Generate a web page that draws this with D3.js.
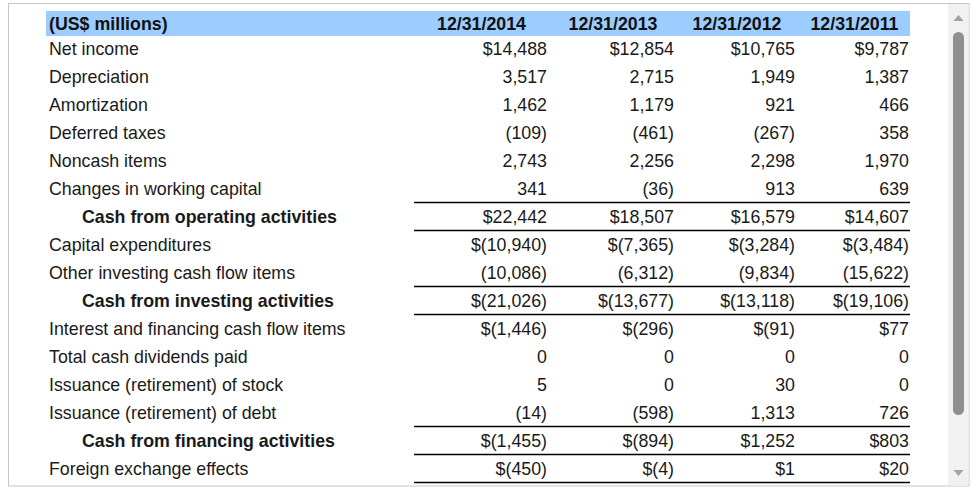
<!DOCTYPE html>
<html><head><meta charset="utf-8">
<script src="https://cdn.jsdelivr.net/npm/d3@7"></script>
<style>
html,body{margin:0;padding:0;background:#fff;}
svg{display:block;font-family:"Liberation Sans",Arial,sans-serif;}
</style></head>
<body><svg id="c" width="977" height="491"></svg>
<script>
const headerLabel = "(US$ millions)";
const dates = ["12/31/2014","12/31/2013","12/31/2012","12/31/2011"];
const categories = [
  "Net income","Depreciation","Amortization","Deferred taxes","Noncash items",
  "Changes in working capital","Cash from operating activities","Capital expenditures",
  "Other investing cash flow items","Cash from investing activities",
  "Interest and financing cash flow items","Total cash dividends paid",
  "Issuance (retirement) of stock","Issuance (retirement) of debt",
  "Cash from financing activities","Foreign exchange effects"
];
const v2014 = [14488,3517,1462,-109,2743,341,22442,-10940,-10086,-21026,-1446,0,5,-14,-1455,-450];
const v2013 = [12854,2715,1179,-461,2256,-36,18507,-7365,-6312,-13677,-296,0,0,-598,-894,-4];
const v2012 = [10765,1949,921,-267,2298,913,16579,-3284,-9834,-13118,-91,0,30,1313,1252,1];
const v2011 = [9787,1387,466,358,1970,639,14607,-3484,-15622,-19106,77,0,0,726,803,20];
const dollarRows = ["Net income","Cash from operating activities","Capital expenditures",
  "Cash from investing activities","Interest and financing cash flow items",
  "Cash from financing activities","Foreign exchange effects"];
const totalRows = ["Cash from operating activities","Cash from investing activities","Cash from financing activities"];

const series = [v2014, v2013, v2012, v2011];
const svg = d3.select("#c");
const fs = "17.8px", ink = "#1a1a1a";

// outer frame
svg.append("rect").attr("x",8.5).attr("y",3.5).attr("width",960.5).attr("height",482.5)
  .attr("fill","#fff").attr("stroke","#c6c6c6");

// scales
const y = d3.scaleBand().domain(categories).range([34, 34 + 28*categories.length]).padding(0);
const colRight = d3.scaleOrdinal().domain(dates).range([550, 677, 798, 912]);
const colLeft = d3.scaleOrdinal().domain(dates).range([414, 550, 677, 798]);
const tableL = 46, tableR = 910, numL = 414;

// header
svg.append("rect").attr("x",tableL).attr("y",11).attr("width",tableR-tableL).attr("height",25).attr("fill","#9dcdff");
svg.append("text").attr("x",tableL+3).attr("y",24).attr("dy","0.35em")
  .attr("font-size",fs).attr("font-weight","bold").attr("fill","#111").text(headerLabel);
svg.selectAll("text.hd").data(dates).join("text").attr("class","hd")
  .attr("x",d=>(colLeft(d)+colRight(d)-3)/2 + 1).attr("y",24).attr("dy","0.35em")
  .attr("text-anchor","middle").attr("font-size",fs).attr("font-weight","bold").attr("fill","#111")
  .text(d=>d);

const fmt = d3.format(",");
function cell(v, cat){
  const s = v < 0 ? "(" + fmt(-v) + ")" : fmt(v);
  return (dollarRows.includes(cat) ? "$" : "") + s;
}

// rows
const rows = svg.selectAll("g.row").data(categories).join("g").attr("class","row")
  .attr("transform",d=>`translate(0,${y(d)})`);
rows.append("text")
  .attr("x",d=>totalRows.includes(d) ? 82 : 49)
  .attr("y",y.bandwidth()/2 + 0.7).attr("dy","0.35em")
  .attr("font-size",fs).attr("font-weight",d=>totalRows.includes(d)?"bold":"normal")
  .attr("fill",ink).text(d=>d);
rows.each(function(cat,i){
  d3.select(this).selectAll("text.v").data(dates).join("text").attr("class","v")
    .attr("x",d=>colRight(d)-3).attr("y",y.bandwidth()/2 + 0.7).attr("dy","0.35em")
    .attr("text-anchor","end").attr("font-size",fs).attr("fill",ink)
    .text((d,j)=>cell(series[j][i], cat));
});

// rules above and below totals, and below last row
const ruleYs = [];
totalRows.forEach(c=>{ ruleYs.push(y(c)); ruleYs.push(y(c)+y.bandwidth()); });
const last = categories[categories.length-1];
ruleYs.push(y(last)+y.bandwidth());
svg.selectAll("line.rule").data(ruleYs).join("line").attr("class","rule")
  .attr("x1",numL).attr("x2",tableR).attr("y1",d=>d+0.5).attr("y2",d=>d+0.5)
  .attr("stroke","#000").attr("stroke-width",1.4);

// scrollbar
svg.append("rect").attr("x",948).attr("y",4).attr("width",20.5).attr("height",481.5).attr("fill","#f1f1f1");
svg.append("rect").attr("x",953).attr("y",32).attr("width",11).attr("height",383).attr("rx",5.5).attr("fill","#8f8f8f");
svg.append("path").attr("d","M953.5,21 L963.5,21 L958.5,15 Z").attr("fill","#a3a3a3");
svg.append("path").attr("d","M953.5,470 L963.5,470 L958.5,476 Z").attr("fill","#a3a3a3");
</script></body></html>
